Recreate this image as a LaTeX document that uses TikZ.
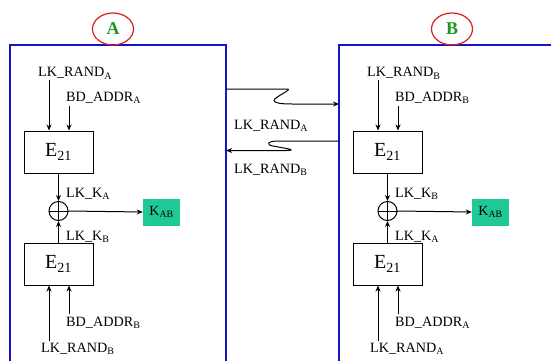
\documentclass[tikz,border=0pt]{standalone}
\usepackage{fontspec}
\setmainfont{Liberation Serif}
\usetikzlibrary{arrows.meta,shapes.geometric}
\definecolor{frameblue}{RGB}{20,20,200}
\definecolor{ovalred}{RGB}{220,30,30}
\definecolor{letgreen}{RGB}{30,150,30}
\definecolor{kteal}{RGB}{32,200,150}
\begin{document}
\begin{tikzpicture}[x=1pt,y=-1pt,
  frame/.style={draw=frameblue,line width=2.4pt},
  oval/.style={draw=ovalred,line width=1.2pt,ellipse,minimum width=41pt,minimum height=32pt,inner sep=0pt,text=letgreen,font=\fontsize{18}{20}\selectfont\bfseries},
  lbl/.style={inner sep=1pt,font=\fontsize{14.2}{16}\selectfont},
  block/.style={draw,line width=1pt,minimum width=69pt,minimum height=42pt,inner sep=0pt,font=\fontsize{20}{22}\selectfont},
  xorc/.style={draw,circle,line width=1pt,minimum size=19pt,inner sep=0pt},
  kab/.style={fill=kteal,minimum width=37pt,minimum height=27pt,inner sep=0pt,font=\fontsize{14}{16}\selectfont},
  arr/.style={line width=1pt,-{Stealth[length=6pt,width=5pt]}},
  ln/.style={line width=1pt}]
\useasboundingbox (0,0) rectangle (551,361);
% frames
\draw[frame] (10,363) -- (10,45) -- (226,45) -- (226,363);
\draw[frame] (339,363) -- (339,45) -- (553,45);
\node[oval] (ovA) at (113,29) {A};
\node[oval] (ovB) at (452,29) {B};
% ---------- left side ----------
\node[lbl,anchor=base west] (aR1) at (37,77) {LK\_RAND\textsubscript{A}};
\node[lbl,anchor=base west] (aD1) at (65,101) {BD\_ADDR\textsubscript{A}};
\node[block] (aE1) at (58.5,152) {E\textsubscript{21}};
\node[xorc] (aX) at (58.5,211) {};
\draw[ln] (aX.north) -- (aX.south) (aX.west) -- (aX.east);
\node[lbl,anchor=base west] (aK1) at (65,197) {LK\_K\textsubscript{A}};
\node[lbl,anchor=base west] (aK2) at (65,240) {LK\_K\textsubscript{B}};
\node[kab] (aKAB) at (161.5,212) {K\textsubscript{AB}};
\node[block] (aE2) at (58.5,264) {E\textsubscript{21}};
\node[lbl,anchor=base west] (aD2) at (65,326) {BD\_ADDR\textsubscript{B}};
\node[lbl,anchor=base west] (aR2) at (40,352) {LK\_RAND\textsubscript{B}};
\draw[arr] ([xshift=-9.5pt]aE1.north |- aR1.south) -- ([xshift=-9.5pt]aE1.north);
\draw[arr] ([xshift=10.5pt,yshift=-2pt]aE1.north |- aD1.south) -- ([xshift=10.5pt]aE1.north);
\draw[arr] (aE1.south) -- (aX.north);
\draw[arr] (aE2.north) -- (aX.south);
\draw[arr] (aX.east) -- (aKAB.west);
\draw[arr] ([xshift=-9.5pt]aE2.south |- aR2.north) -- ([xshift=-9.5pt]aE2.south);
\draw[arr] ([xshift=10.5pt,yshift=1pt]aE2.south |- aD2.north) -- ([xshift=10.5pt]aE2.south);
% ---------- right side ----------
\node[lbl,anchor=base west] (bR1) at (366,77) {LK\_RAND\textsubscript{B}};
\node[lbl,anchor=base west] (bD1) at (394,101) {BD\_ADDR\textsubscript{B}};
\node[block] (bE1) at (387.5,152) {E\textsubscript{21}};
\node[xorc] (bX) at (387.5,211) {};
\draw[ln] (bX.north) -- (bX.south) (bX.west) -- (bX.east);
\node[lbl,anchor=base west] (bK1) at (394,197) {LK\_K\textsubscript{B}};
\node[lbl,anchor=base west] (bK2) at (394,240) {LK\_K\textsubscript{A}};
\node[kab] (bKAB) at (490.5,212) {K\textsubscript{AB}};
\node[block] (bE2) at (387.5,264) {E\textsubscript{21}};
\node[lbl,anchor=base west] (bD2) at (394,326) {BD\_ADDR\textsubscript{A}};
\node[lbl,anchor=base west] (bR2) at (369,352) {LK\_RAND\textsubscript{A}};
\draw[arr] ([xshift=-9.5pt]bE1.north |- bR1.south) -- ([xshift=-9.5pt]bE1.north);
\draw[arr] ([xshift=10.5pt,yshift=-2pt]bE1.north |- bD1.south) -- ([xshift=10.5pt]bE1.north);
\draw[arr] (bE1.south) -- (bX.north);
\draw[arr] (bE2.north) -- (bX.south);
\draw[arr] (bX.east) -- (bKAB.west);
\draw[arr] ([xshift=-9.5pt]bE2.south |- bR2.north) -- ([xshift=-9.5pt]bE2.south);
\draw[arr] ([xshift=10.5pt,yshift=1pt]bE2.south |- bD2.north) -- ([xshift=10.5pt]bE2.south);
% ---------- middle links ----------
\coordinate (lnkA1) at (226,89);
\coordinate (lnkA2) at (339,104);
\coordinate (lnkB1) at (339,141);
\coordinate (lnkB2) at (226,150.5);
\draw[arr] (lnkA1) -- (287,89) .. controls (294,89) and (274,97) .. (274,100.5)
  .. controls (274,103) and (281,104) .. (292,104) -- (lnkA2);
\draw[arr] (lnkB1) -- (278,141) .. controls (267,141) and (266,145) .. (273,146)
  -- (289,149) .. controls (292,149.6) and (292,150.5) .. (287,150.5) -- (lnkB2);
\node[lbl,anchor=base west] (mA) at (233,129) {LK\_RAND\textsubscript{A}};
\node[lbl,anchor=base west] (mB) at (233,173) {LK\_RAND\textsubscript{B}};
\end{tikzpicture}
\end{document}
